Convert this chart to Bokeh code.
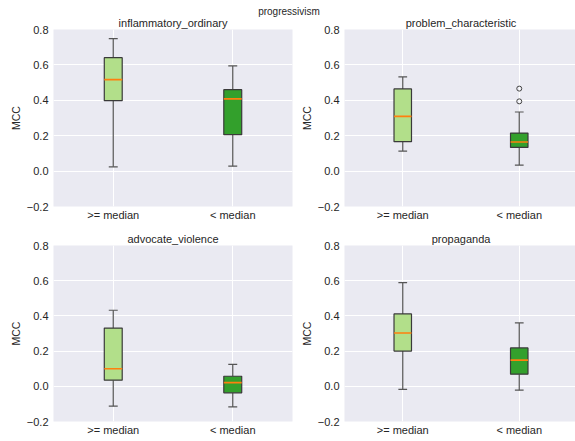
from bokeh.plotting import figure
from bokeh.models import ColumnDataSource, FixedTicker, Div, Range1d
from bokeh.layouts import column, row
from bokeh.embed import file_html
from bokeh.resources import INLINE

suptitle = "progressivism"
panel_titles = ["inflammatory_ordinary", "problem_characteristic",
                "advocate_violence", "propaganda"]
groups = [">= median", "< median"]
group_colors = ["#b2df8a", "#33a02c"]

# per panel: [>= median, < median]
whisker_low = [[0.024, 0.028], [0.113, 0.034], [-0.113, -0.117], [-0.018, -0.022]]
q1 = [[0.398, 0.206], [0.166, 0.134], [0.035, -0.037], [0.200, 0.069]]
median = [[0.517, 0.408], [0.309, 0.164], [0.100, 0.021], [0.303, 0.149]]
q3 = [[0.641, 0.460], [0.464, 0.215], [0.331, 0.057], [0.411, 0.218]]
whisker_high = [[0.749, 0.594], [0.532, 0.334], [0.432, 0.125], [0.589, 0.360]]
outliers = [[[], []], [[], [0.466, 0.394]], [[], []], [[], []]]

y_ticks = [-0.2, 0.0, 0.2, 0.4, 0.6, 0.8]
y_labels = ["\u22120.2", "0.0", "0.2", "0.4", "0.6", "0.8"]

FONT = "Liberation Sans"
TXT = "#262626"
BOX_W = 0.15


def make_panel(i, fw, fh, bl, br, bt, bb):
    p = figure(frame_width=fw, frame_height=fh,
               min_border_left=bl, min_border_right=br,
               min_border_top=bt, min_border_bottom=bb,
               x_range=Range1d(0.5, 2.5), y_range=Range1d(-0.2, 0.8),
               toolbar_location=None, output_backend="svg",
               title=panel_titles[i])
    p.title.text_font = FONT
    p.title.text_font_size = "11px"
    p.title.text_font_style = "normal"
    p.title.text_color = TXT
    p.title.align = "center"
    p.title.standoff = 1
    p.background_fill_color = "#eaeaf2"
    p.border_fill_color = None
    p.outline_line_color = None

    xs = [1, 2]
    src = ColumnDataSource(dict(
        x=xs, lo=whisker_low[i], q1=q1[i], med=median[i], q3=q3[i],
        hi=whisker_high[i], color=group_colors,
        xl=[x - BOX_W / 2 for x in xs], xr=[x + BOX_W / 2 for x in xs],
        cl=[x - BOX_W / 4 for x in xs], cr=[x + BOX_W / 4 for x in xs],
    ))
    wc = "#555555"
    p.segment(x0="x", y0="q3", x1="x", y1="hi", source=src, line_color=wc, line_width=1.2)
    p.segment(x0="x", y0="q1", x1="x", y1="lo", source=src, line_color=wc, line_width=1.2)
    p.segment(x0="cl", y0="hi", x1="cr", y1="hi", source=src, line_color=wc, line_width=1.2)
    p.segment(x0="cl", y0="lo", x1="cr", y1="lo", source=src, line_color=wc, line_width=1.2)
    p.vbar(x="x", width=BOX_W, bottom="q1", top="q3", source=src,
           fill_color="color", line_color="#3a3a3a", line_width=1.2)
    p.segment(x0="xl", y0="med", x1="xr", y1="med", source=src,
              line_color="#ff7f0e", line_width=1.6)
    ox, oy = [], []
    for k, vals in enumerate(outliers[i]):
        for v in vals:
            ox.append(xs[k])
            oy.append(v)
    if ox:
        p.scatter(x=ox, y=oy, marker="circle", size=5, fill_color=None,
                  line_color="#444444", line_width=1)

    p.xaxis.ticker = FixedTicker(ticks=xs)
    p.xaxis.major_label_overrides = {1: groups[0], 2: groups[1]}
    p.yaxis.ticker = FixedTicker(ticks=y_ticks)
    p.yaxis.major_label_overrides = {t: l for t, l in zip(y_ticks, y_labels)}
    p.yaxis.axis_label = "MCC"
    for ax in (p.xaxis[0], p.yaxis[0]):
        ax.axis_line_color = None
        ax.major_tick_line_color = None
        ax.minor_tick_line_color = None
        ax.major_tick_out = 0
        ax.major_tick_in = 0
        ax.minor_tick_out = 0
        ax.major_label_text_font = FONT
        ax.major_label_text_font_size = "11px"
        ax.major_label_text_color = TXT
        ax.axis_label_text_font = FONT
        ax.axis_label_text_font_size = "10.5px"
        ax.axis_label_text_font_style = "normal"
        ax.axis_label_text_color = TXT
    p.xaxis.major_label_standoff = 2
    p.yaxis.major_label_standoff = 5
    p.yaxis.axis_label_standoff = 2
    p.xgrid.grid_line_color = "white"
    p.ygrid.grid_line_color = "white"
    p.xgrid.grid_line_width = 1
    p.ygrid.grid_line_width = 1
    return p


HEAD_H = 13
p1 = make_panel(0, 239, 177, 53, 5, 29 - HEAD_H, 18)
p2 = make_panel(1, 233, 177, 44, 1, 29 - HEAD_H, 18)
p3 = make_panel(2, 239, 176, 53, 5, 21, 20)
p4 = make_panel(3, 233, 176, 44, 1, 21, 20)

head = Div(text=('<div style="width:575px;text-align:center;font-family:\'Liberation Sans\';'
                 'font-size:10px;line-height:10px;color:#262626;padding-top:7px;padding-left:3px;'
                 'white-space:nowrap;">' + suptitle + '</div>'),
           width=575, height=HEAD_H, margin=0,
           styles={"overflow": "visible", "z-index": "5"})

layout = column(head, row(p1, p2, spacing=0), row(p3, p4, spacing=0), spacing=0)

open("out.html", "w").write(file_html(layout, INLINE))
